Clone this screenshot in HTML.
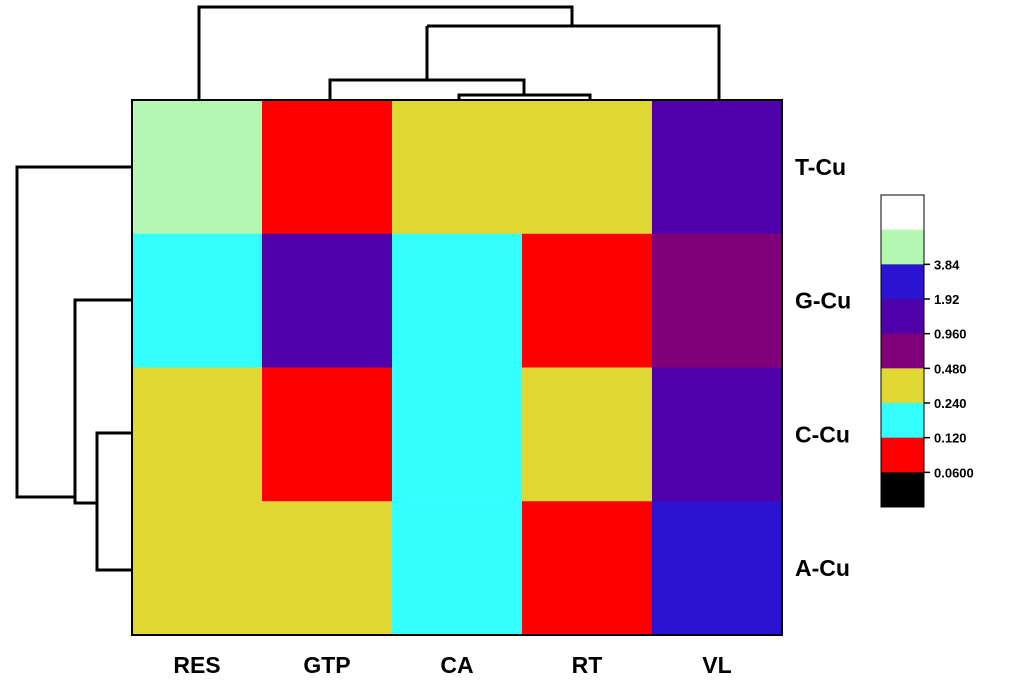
<!DOCTYPE html>
<html><head><meta charset="utf-8"><style>
html,body{margin:0;padding:0;background:#fff;width:1025px;height:684px;overflow:hidden}
svg text{font-family:"Liberation Sans",sans-serif;font-weight:bold}
</style></head><body>
<svg id="chart" width="1025" height="684" viewBox="0 0 1025 684" xmlns="http://www.w3.org/2000/svg">
<g id="dendro-top" fill="none" stroke="#000" stroke-width="3">
<path d="M199 100V7H572V26"/>
<path d="M427 26H719V100"/>
<path d="M427 80V26"/>
<path d="M330 100V80H524V95"/>
<path d="M459 100V95H590V100"/>
</g>
<g id="dendro-left" fill="none" stroke="#000" stroke-width="3">
<path d="M132 167H17V497H75"/>
<path d="M132 300H75V503H97"/>
<path d="M132 433H97V570H132"/>
</g>
<g id="cells"></g>
<rect x="132" y="100" width="650" height="535" fill="none" stroke="#000" stroke-width="2"/>
<g id="xlabels"></g><g id="ylabels"></g>
<g id="legend"></g>
</svg>
<script>
const columns=["RES","GTP","CA","RT","VL"];
const rows=["T-Cu","G-Cu","C-Cu","A-Cu"];
// level index into legend bands (0=top white ... 8=black)
const cellLevels=[
 [1,7,5,5,3],
 [6,3,6,7,4],
 [5,7,6,5,3],
 [5,5,6,7,2]
];
const bandColors=["#ffffff","#b3f7b3","#2a14d2","#5000a8","#80007a","#e0d832","#33ffff","#ff0000","#000000"];
const tickLabels=["3.84","1.92","0.960","0.480","0.240","0.120","0.0600"];
const NS="http://www.w3.org/2000/svg";
const X0=132,X1=782,Y0=100,Y1=635;
const cw=(X1-X0)/columns.length, rh=(Y1-Y0)/rows.length;
const xs=i=>X0+i*cw, ys=j=>Y0+j*rh;
function mk(t,a){const e=document.createElementNS(NS,t);for(const k in a)e.setAttribute(k,a[k]);return e;}
const cells=document.getElementById('cells');
rows.forEach((r,j)=>columns.forEach((c,i)=>{
 const e=mk('rect',{x:xs(i),y:ys(j),width:cw+0.5,height:rh+0.5,fill:bandColors[cellLevels[j][i]]});
 
 
 cells.appendChild(e);
}));
const xl=document.getElementById('xlabels');
columns.forEach((c,i)=>{
 const t=mk('text',{x:xs(i)+cw/2,y:673,'text-anchor':'middle','font-size':'23'});t.textContent=c;
 
 
 xl.appendChild(t);
});
const yl=document.getElementById('ylabels');
rows.forEach((r,j)=>{
 const t=mk('text',{x:795,y:ys(j)+rh/2+8,'font-size':'23'});t.textContent=r;
 
 
 yl.appendChild(t);
});
const lg=document.getElementById('legend');
const LX=881,LW=43,LY0=195,LY1=507,bh=(LY1-LY0)/bandColors.length;
bandColors.forEach((c,k)=>{
 const e=mk('rect',{x:LX,y:LY0+k*bh,width:LW,height:bh+0.5,fill:c});
 
 
 lg.appendChild(e);
});
const lb=mk('rect',{x:LX,y:LY0,width:LW,height:LY1-LY0,fill:'none',stroke:'#000','stroke-width':1});


lg.appendChild(lb);
tickLabels.forEach((s,k)=>{
 const y=LY0+(k+2)*bh;
 const l=mk('line',{x1:LX+LW,x2:LX+LW+6,y1:y,y2:y,stroke:'#000','stroke-width':1.5});
 
 
 lg.appendChild(l);
 const t=mk('text',{x:LX+LW+10,y:y+5,'font-size':'13'});t.textContent=s;
 
 
 lg.appendChild(t);
});
</script>
</body></html>
